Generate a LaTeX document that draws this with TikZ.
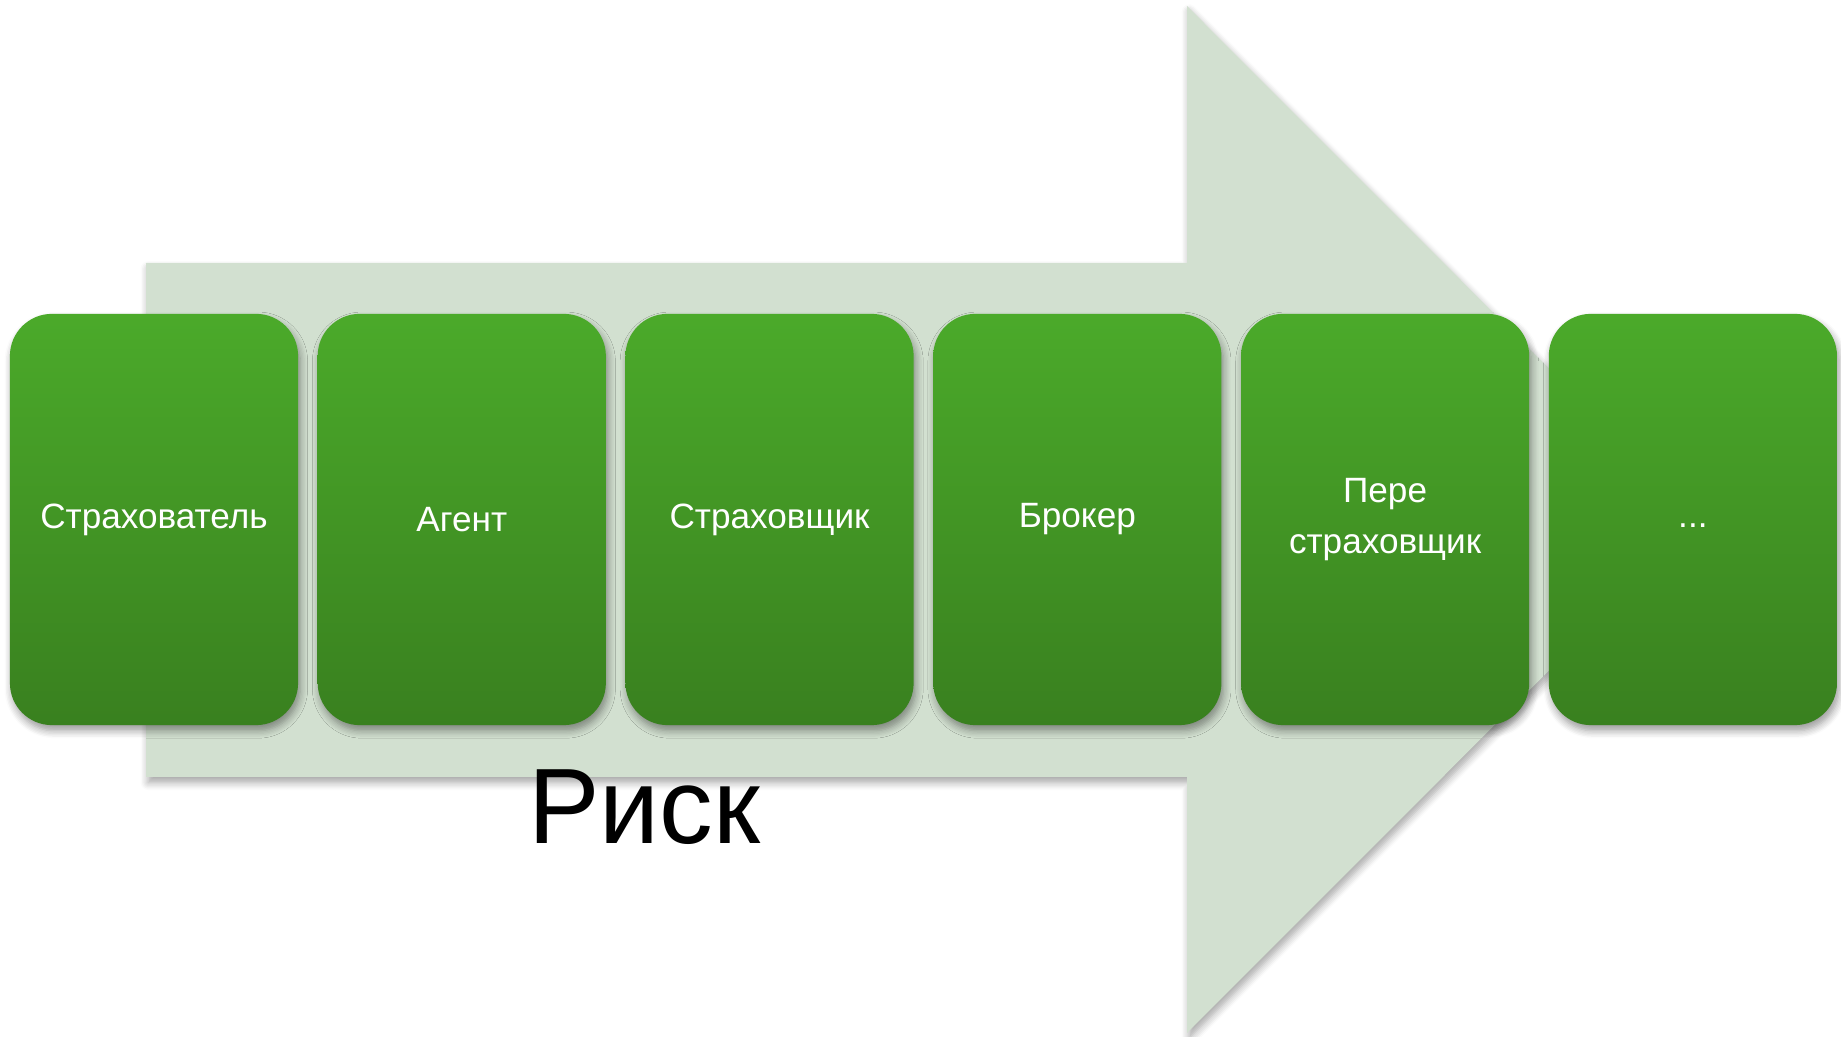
\documentclass[tikz,border=0pt]{standalone}
\usepackage{fontspec}
\setmainfont{Liberation Sans}
\usepackage{tikz}
\usetikzlibrary{positioning, shadows.blur}

\definecolor{arrowfill}{RGB}{210,224,208}
\definecolor{boxtop}{RGB}{75,170,42}
\definecolor{boxbottom}{RGB}{57,128,31}

\tikzset{
	stage/.style={rounded corners=0.42cm, top color=boxtop, bottom color=boxbottom,
		minimum width=2.88cm, minimum height=4.11cm, inner sep=2pt, outer sep=0pt,
		text=white, font=\fontsize{10}{14.5}\selectfont, align=center,
		blur shadow={shadow xshift=0.6pt, shadow yshift=-1.6pt, shadow blur steps=6, shadow opacity=40}},
}

\begin{document}
\begin{tikzpicture}[x=0.01cm, y=-0.01cm]
	\useasboundingbox (0,0) rectangle (1841,1037);
	% big background arrow
	\fill[arrowfill, blur shadow={shadow xshift=0.6pt, shadow yshift=-1.6pt, shadow blur steps=6, shadow opacity=35}]
		(146,263) -- (1187,263) -- (1187,6) -- (1700,519.5) -- (1187,1033) -- (1187,777) -- (146,777) -- cycle;
	\node[font=\fontsize{30.5}{36}\selectfont] (risk) at (644,807) {Риск};
	% stages
	\node[stage] (insured) at (154,519.5) {Страхователь};
	\node[stage, right=0.196cm of insured] (agent) {Агент};
	\node[stage, right=0.196cm of agent] (insurer) {Страховщик};
	\node[stage, right=0.196cm of insurer] (broker) {Брокер};
	\node[stage, right=0.196cm of broker] (reinsurer) {Пере\\страховщик};
	\node[stage, right=0.196cm of reinsurer] (more) {\vphantom{Бр}...};
\end{tikzpicture}
\end{document}
